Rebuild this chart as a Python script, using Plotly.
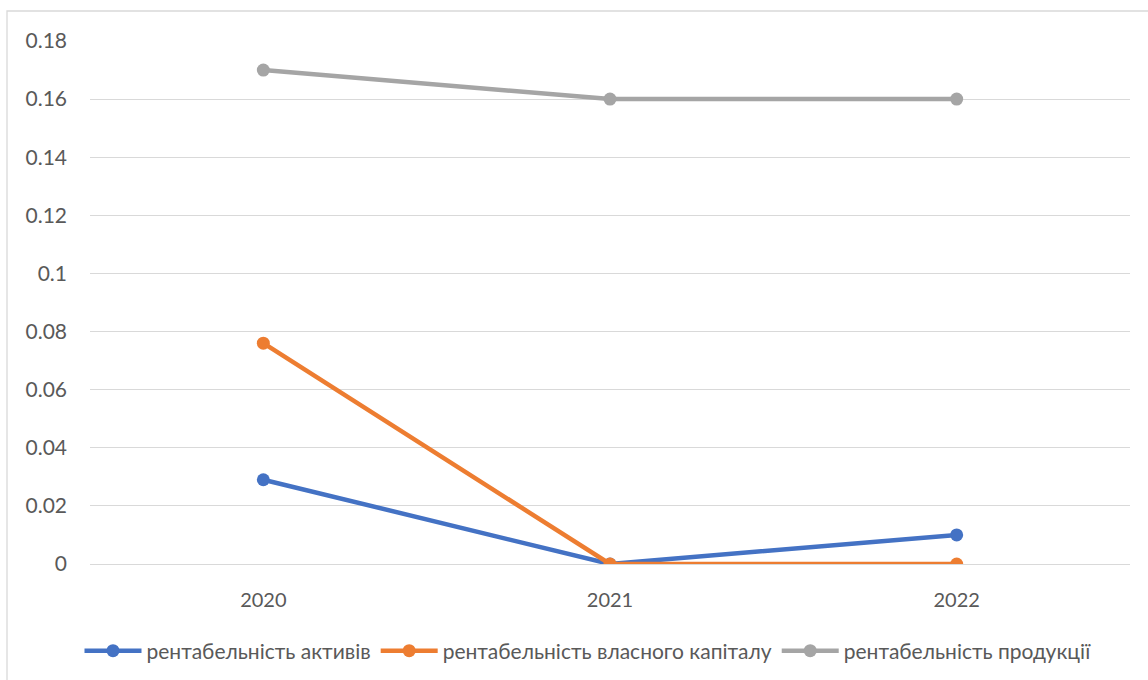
import plotly.graph_objects as go

years = ["2020", "2021", "2022"]
roa = [0.029, 0.0, 0.01]
roe = [0.076, 0.0, 0.0]
ros = [0.17, 0.16, 0.16]
series_names = [
    "рентабельність активів",
    "рентабельність власного капіталу",
    "рентабельність продукції",
]
colors = ["#4472C4", "#ED7D31", "#A5A5A5"]
y_ticks = [0, 0.02, 0.04, 0.06, 0.08, 0.1, 0.12, 0.14, 0.16, 0.18]
y_tick_text = ["0", "0.02", "0.04", "0.06", "0.08", "0.1", "0.12", "0.14", "0.16", "0.18"]

font_family = "Lato, 'Open Sans', sans-serif"
text_color = "#595959"

fig = go.Figure()
for name, vals, col in zip(series_names, [roa, roe, ros], colors):
    fig.add_trace(go.Scatter(
        x=years, y=vals, name=name, mode="lines+markers",
        line=dict(color=col, width=4.5),
        marker=dict(color=col, size=13),
    ))

fig.update_layout(
    width=1148, height=680,
    margin=dict(l=90, r=18, t=41, b=116, autoexpand=False),
    paper_bgcolor="white", plot_bgcolor="white",
    font=dict(family=font_family, size=19, color=text_color),
    showlegend=True,
    legend=dict(
        orientation="h", xref="container", x=588 / 1148, xanchor="center",
        yref="container", y=1 - 651 / 680, yanchor="middle",
        itemwidth=57, font=dict(size=21, color=text_color),
        tracegroupgap=0,
    ),
    xaxis=dict(
        type="category", range=[-0.5, 2.5], showgrid=False, zeroline=False,
        showline=False, ticks="", ticklabelstandoff=22,
        tickfont=dict(size=20),
    ),
    yaxis=dict(
        range=[0, 0.18], tickvals=y_ticks, ticktext=y_tick_text,
        showgrid=True, gridcolor="#D9D9D9", gridwidth=1.3,
        zeroline=True, zerolinecolor="#D9D9D9", zerolinewidth=1.3,
        showline=False, ticks="", ticklabelstandoff=22,
        tickfont=dict(size=21),
    ),
    shapes=[dict(
        type="rect", xref="paper", yref="paper",
        x0=-83/1040, x1=1.05, y0=-0.3, y1=1 + 30/523,
        line=dict(color="#D9D9D9", width=1.3), layer="below",
    )],
)

fig.write_html("out.html")
